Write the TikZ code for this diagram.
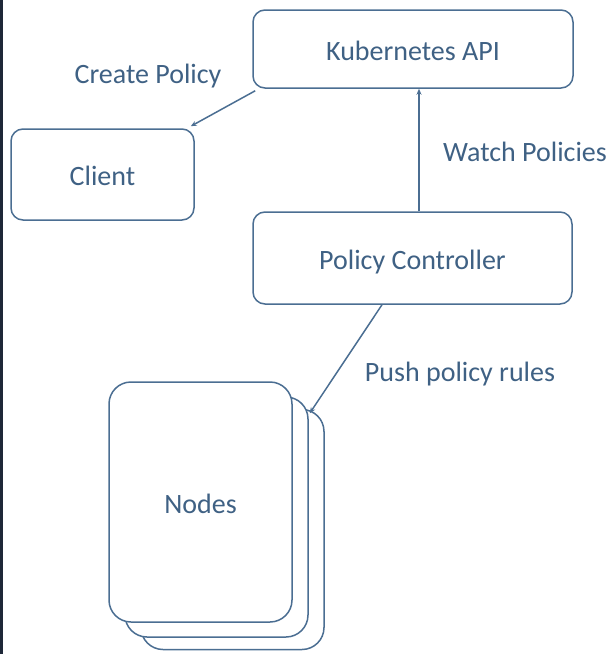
\documentclass[tikz,border=0pt]{standalone}
\usepackage{fontspec}
\setmainfont{Carlito}
\usetikzlibrary{arrows.meta,calc}
\definecolor{txtblue}{HTML}{3F6184}
\definecolor{lineblue}{HTML}{4B6E92}
\definecolor{edgedark}{HTML}{1E2838}
\tikzset{
  box/.style={draw=lineblue,line width=1.5pt,rounded corners=12pt,fill=white,
    text=txtblue,font=\fontsize{28}{32}\selectfont,inner sep=0pt,
    text height=22pt,text depth=0pt},
  card/.style={draw=lineblue,line width=1.5pt,rounded corners=22pt,fill=white,
    minimum width=183pt,minimum height=240pt,inner sep=0pt,
    text=txtblue,font=\fontsize{28}{32}\selectfont,
    text height=22pt,text depth=0pt},
  lbl/.style={text=txtblue,font=\fontsize{28}{32}\selectfont,inner sep=0pt,
    text height=18pt,text depth=0pt},
  conn/.style={draw=lineblue,line width=1.5pt,-{Stealth[length=6pt,width=5pt]}}
}
\begin{document}
\begin{tikzpicture}[x=1pt,y=-1pt]
\useasboundingbox (0,0) rectangle (614,654);
\fill[edgedark] (0,0) rectangle (2.5,654);
% boxes
\node[box,minimum width=320pt,minimum height=78pt] (k8s) at (413,49) {Kubernetes API};
\node[box,minimum width=183pt,minimum height=91pt] (client) at (102.5,174.5) {Client};
\node[box,minimum width=319pt,minimum height=92pt] (pc) at (412.5,258) {Policy Controller};
% node cards
\node[card] (nodes3) at (232.5,529.5) {};
\node[card] (nodes2) at (216.5,517) {};
\node[card] (nodes1) at (200.5,502) {Nodes};
% labels
\node[lbl] (lcreate) at (148,74) {Create Policy};
\node[lbl] (lwatch) at (525,152) {Watch Policies};
\node[lbl] (lpush) at (460,372) {Push policy rules};
% connectors
\coordinate (cstart) at ([xshift=3pt,yshift=-2pt]k8s.south west);
\coordinate (cend) at ([xshift=-4pt,yshift=2pt]client.north east);
\draw[conn] (cstart) -- (cend);
\coordinate (wstart) at ([xshift=6.5pt]pc.north);
\draw[conn] (wstart) -- (wstart |- k8s.south);
\coordinate (pstart) at ([xshift=-30.5pt]pc.south);
\coordinate (pend) at ([xshift=1pt,yshift=-17pt]nodes2.north east);
\draw[conn] (pstart) -- (pend);
\end{tikzpicture}
\end{document}
